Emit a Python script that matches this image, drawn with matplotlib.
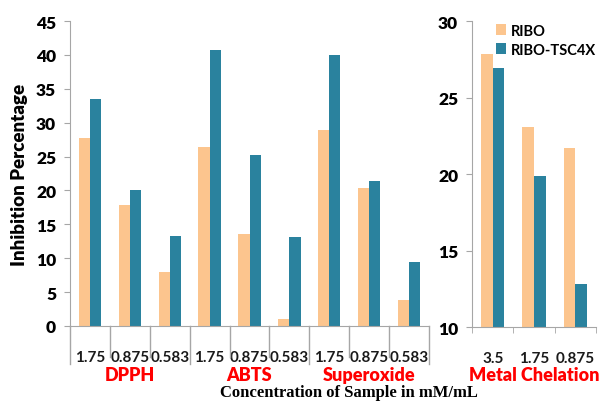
import matplotlib
matplotlib.use("Agg")
import matplotlib.pyplot as plt
import numpy as np

# inhibition (%) for the three radical assays, 3 concentrations each
assays = ["DPPH", "ABTS", "Superoxide"]
conc_labels = ["1.75", "0.875", "0.583"] * 3
ribo = [27.7, 17.8, 8.0, 26.4, 13.5, 1.0, 28.9, 20.4, 3.9]
ribo_tsc = [33.5, 20.1, 13.3, 40.7, 25.3, 13.1, 40.0, 21.4, 9.4]

# metal chelation (separate scale)
chel_labels = ["3.5", "1.75", "0.875"]
chel_ribo = [27.85, 23.1, 21.7]
chel_tsc = [26.9, 19.85, 12.8]

c_ribo = "#FCC58E"
c_tsc = "#2A829E"
grey = "#A6A6A6"
bw = 0.28
heavy = "heavy"

plt.rcParams["font.family"] = ["Lato", "DejaVu Sans"]

fig = plt.figure(figsize=(6.01, 4.06), dpi=100)

# ---- left panel
ax = fig.add_axes([0.1165, 0.1946, 0.5973, 0.7512])
x = np.arange(len(ribo))
ax.bar(x - bw / 2, ribo, bw, color=c_ribo)
ax.bar(x + bw / 2, ribo_tsc, bw, color=c_tsc)
ax.set_xlim(-0.5, len(ribo) - 0.5)
ax.set_ylim(0, 45)
ax.set_yticks(range(0, 46, 5))
ax.tick_params(axis="y", labelsize=12.5, length=4, color=grey, pad=6)
for t in ax.get_yticklabels():
    t.set_fontweight(heavy)
ax.set_xticks(x)
ax.set_xticklabels(conc_labels, fontsize=11, fontweight="bold", color="#1a1a1a")
ax.tick_params(axis="x", length=0, pad=17)
for s in ["top", "right"]:
    ax.spines[s].set_visible(False)
ax.spines["left"].set_color(grey)
ax.spines["bottom"].set_color(grey)

# category dividers under the axis
trans = ax.get_xaxis_transform()
bounds = np.arange(len(ribo) + 1) - 0.5
for i, b in enumerate(bounds):
    depth = -0.125 if i % 3 == 0 else -0.102
    ax.plot([b, b], [0, depth], transform=trans, color=grey, lw=1, clip_on=False)
for g, name in enumerate(assays):
    ax.text(3 * g + 1, -0.16, name, transform=trans, ha="center", va="center",
            color="#FF0000", fontsize=13, fontweight=heavy)

ax.set_ylabel("Inhibition Percentage", fontsize=13.5, fontweight=heavy, labelpad=6)

# ---- right panel
ax2 = fig.add_axes([0.7854, 0.1921, 0.2063, 0.7537])
x2 = np.arange(len(chel_ribo))
ax2.bar(x2 - bw / 2, chel_ribo, bw, color=c_ribo, label="RIBO")
ax2.bar(x2 + bw / 2, chel_tsc, bw, color=c_tsc, label="RIBO-TSC4X")
ax2.set_xlim(-0.5, len(chel_ribo) - 0.5)
ax2.set_ylim(10, 30)
ax2.set_yticks(range(10, 31, 5))
ax2.tick_params(axis="y", labelsize=12.5, length=4, color=grey, pad=6)
for t in ax2.get_yticklabels():
    t.set_fontweight(heavy)
ax2.set_xticks(x2)
ax2.set_xticklabels(chel_labels, fontsize=11, fontweight="bold", color="#1a1a1a")
ax2.tick_params(axis="x", which="major", length=0, pad=17)
ax2.set_xticks(np.arange(len(chel_ribo) + 1) - 0.5, minor=True)
ax2.tick_params(axis="x", which="minor", length=4, color=grey)
for s in ["top", "right"]:
    ax2.spines[s].set_visible(False)
ax2.spines["left"].set_color(grey)
ax2.spines["bottom"].set_color(grey)
ax2.text(1, -0.155, "Metal Chelation", transform=ax2.get_xaxis_transform(),
         ha="center", va="center", color="#FF0000", fontsize=13, fontweight=heavy)

leg = ax2.legend(loc="upper left", bbox_to_anchor=(0.11, 1.025), frameon=False,
                 fontsize=10.5, handlelength=0.7, handleheight=0.7,
                 handletextpad=0.3, labelspacing=0.35, borderpad=0.2)
for t in leg.get_texts():
    t.set_fontweight("bold")

fig.text(0.58, 0.032, "Concentration of Sample in mM/mL", ha="center", va="center",
         fontsize=12, fontweight="bold", family="Liberation Serif")

fig.savefig("out.png", dpi=100)
